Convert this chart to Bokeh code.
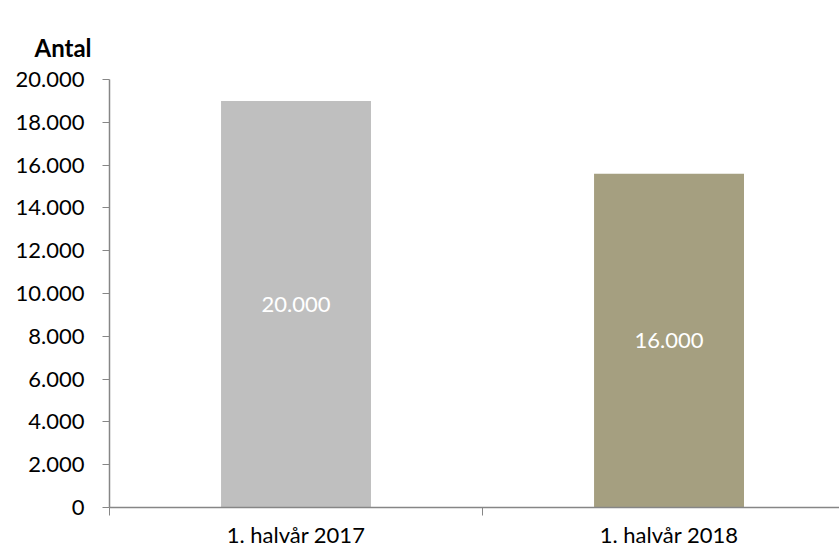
from bokeh.plotting import figure
from bokeh.models import ColumnDataSource, FixedTicker, Range1d, Title, CustomJSTickFormatter
from bokeh.core.properties import value
from bokeh.embed import file_html
from bokeh.resources import INLINE

categories = ["1. halvår 2017", "1. halvår 2018"]
counts = [19000, 15600]
bar_labels = ["20.000", "16.000"]
colors = ["#BFBFBF", "#A59F80"]
y_ticks = [0, 2000, 4000, 6000, 8000, 10000, 12000, 14000, 16000, 18000, 20000]

FONT = "Lato"
AXIS_COLOR = "#868686"

xs = [i + 0.5 for i in range(len(categories))]
src = ColumnDataSource(dict(x=xs, top=counts, mid=[c / 2 for c in counts],
                            color=colors, label=bar_labels))

p = figure(width=839, height=550, output_backend="svg", toolbar_location=None,
           x_range=Range1d(0, 1.957), y_range=Range1d(0, 20000),
           min_border_left=109, min_border_right=0, min_border_top=79,
           min_border_bottom=43)
p.title = Title(text="Antal", align="left", text_font=FONT, text_font_size="24px",
                text_font_style="bold", text_color="black", offset=-75,
                standoff=36)

p.vbar(x="x", top="top", width=0.402, color="color", source=src, line_color=None)
p.text(x="x", y="mid", text="label", source=src, text_color="white",
       text_font=value(FONT), text_font_size="22px", text_align="center",
       text_baseline="middle")

p.xgrid.visible = False
p.ygrid.visible = False
p.outline_line_color = None

p.yaxis.ticker = FixedTicker(ticks=y_ticks)
p.yaxis.formatter = CustomJSTickFormatter(code="""
return tick.toFixed(0).replace(/\\B(?=(\\d{3})+(?!\\d))/g, '.');
""")
p.yaxis.major_tick_out = 7
p.yaxis.major_tick_in = 0
p.yaxis.minor_tick_out = 0
p.yaxis.minor_tick_in = 0
p.yaxis.major_label_standoff = 18
p.yaxis.axis_line_color = AXIS_COLOR
p.yaxis.major_tick_line_color = AXIS_COLOR
p.yaxis.major_label_text_font = FONT
p.yaxis.major_label_text_font_size = "22px"
p.yaxis.major_label_text_color = "black"

p.xaxis.ticker = FixedTicker(ticks=xs, minor_ticks=[0, 1, 2])
p.xaxis.major_label_overrides = {x: c for x, c in zip(xs, categories)}
p.xaxis.major_tick_out = 0
p.xaxis.major_tick_in = 0
p.xaxis.minor_tick_out = 8
p.xaxis.minor_tick_in = 0
p.xaxis.minor_tick_line_color = AXIS_COLOR
p.xaxis.axis_line_color = AXIS_COLOR
p.xaxis.axis_line_width = 1.5
p.yaxis.axis_line_width = 1.5
p.xaxis.major_label_standoff = 5
p.xaxis.major_label_text_font = FONT
p.xaxis.major_label_text_font_size = "22px"
p.xaxis.major_label_text_color = "black"

open("out.html", "w").write(file_html(p, INLINE))
